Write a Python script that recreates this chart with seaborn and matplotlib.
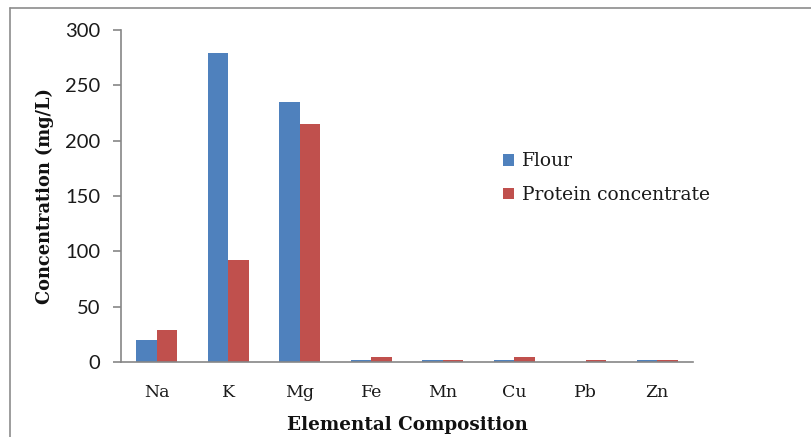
import pandas as pd
import matplotlib
matplotlib.use("Agg")
import matplotlib.pyplot as plt
import seaborn as sns
from matplotlib.lines import Line2D

elements = ["Na", "K", "Mg", "Fe", "Mn", "Cu", "Pb", "Zn"]
flour = [20, 279, 235, 2, 2, 2, 0, 2]
protein = [29, 92, 215, 4.5, 2, 4.5, 2, 2]
series = ["Flour", "Protein concentrate"]
colors = ["#4F81BD", "#C0504D"]
yticks = [0, 50, 100, 150, 200, 250, 300]

df = pd.DataFrame({
    "element": elements * 2,
    "value": flour + protein,
    "series": [series[0]] * len(elements) + [series[1]] * len(elements),
})

sns.set_style("white")
axis_gray = "#868686"

fig = plt.figure(figsize=(8.11, 4.37), dpi=100)
ax = fig.add_axes([121 / 811, 1 - 362 / 437, 572 / 811, 332 / 437])

sns.barplot(data=df, x="element", y="value", hue="series", order=elements,
            hue_order=series, palette=colors, width=0.57, gap=0,
            saturation=1, ax=ax, linewidth=0)

ax.set_xlim(-0.5, len(elements) - 0.5)
ax.set_ylim(0, 300)
ax.set_yticks(yticks)
ax.set_yticklabels([str(t) for t in yticks], family=["Lato", "DejaVu Sans"],
                   fontsize=14.5, color="#1a1a1a")

ax.set_xticks(range(len(elements)))
ax.set_xticklabels(elements, family="DejaVu Serif", fontsize=12.5, color="#1a1a1a")
ax.set_xticks([i - 0.5 for i in range(len(elements) + 1)], minor=True)
ax.tick_params(axis="x", which="major", length=0, pad=16)
ax.tick_params(axis="x", which="minor", length=6.5, width=1.2, color=axis_gray)
ax.tick_params(axis="y", which="major", length=6, width=1.2, color=axis_gray,
               direction="out", left=True, pad=9)

for side in ["top", "right"]:
    ax.spines[side].set_visible(False)
for side in ["left", "bottom"]:
    ax.spines[side].set_color(axis_gray)
    ax.spines[side].set_linewidth(1.2)

ax.set_xlabel("Elemental Composition", family="DejaVu Serif", fontweight="bold",
              fontsize=13.2, color="#111111", labelpad=11)
ax.set_ylabel("Concentration (mg/L)", family="DejaVu Serif", fontweight="bold",
              fontsize=12.8, color="#111111", labelpad=8)

handles, labels = ax.get_legend_handles_labels()
ax.legend(handles, labels, loc="upper left", bbox_to_anchor=(0.668, 0.632),
          frameon=False, prop={"family": "DejaVu Serif", "size": 13.5},
          handlelength=0.6, handleheight=0.6, handletextpad=0.4,
          labelspacing=0.85, borderpad=0, borderaxespad=0,
          labelcolor="#1a1a1a")

# outer chart frame (only top and left edges are inside the picture)
fig.add_artist(Line2D([10 / 811, 1.0], [1 - 8 / 437, 1 - 8 / 437],
                      color="#8c8c8c", linewidth=1.2, transform=fig.transFigure))
fig.add_artist(Line2D([10 / 811, 10 / 811], [0.0, 1 - 8 / 437],
                      color="#8c8c8c", linewidth=1.2, transform=fig.transFigure))

fig.savefig("out.png", dpi=100)
